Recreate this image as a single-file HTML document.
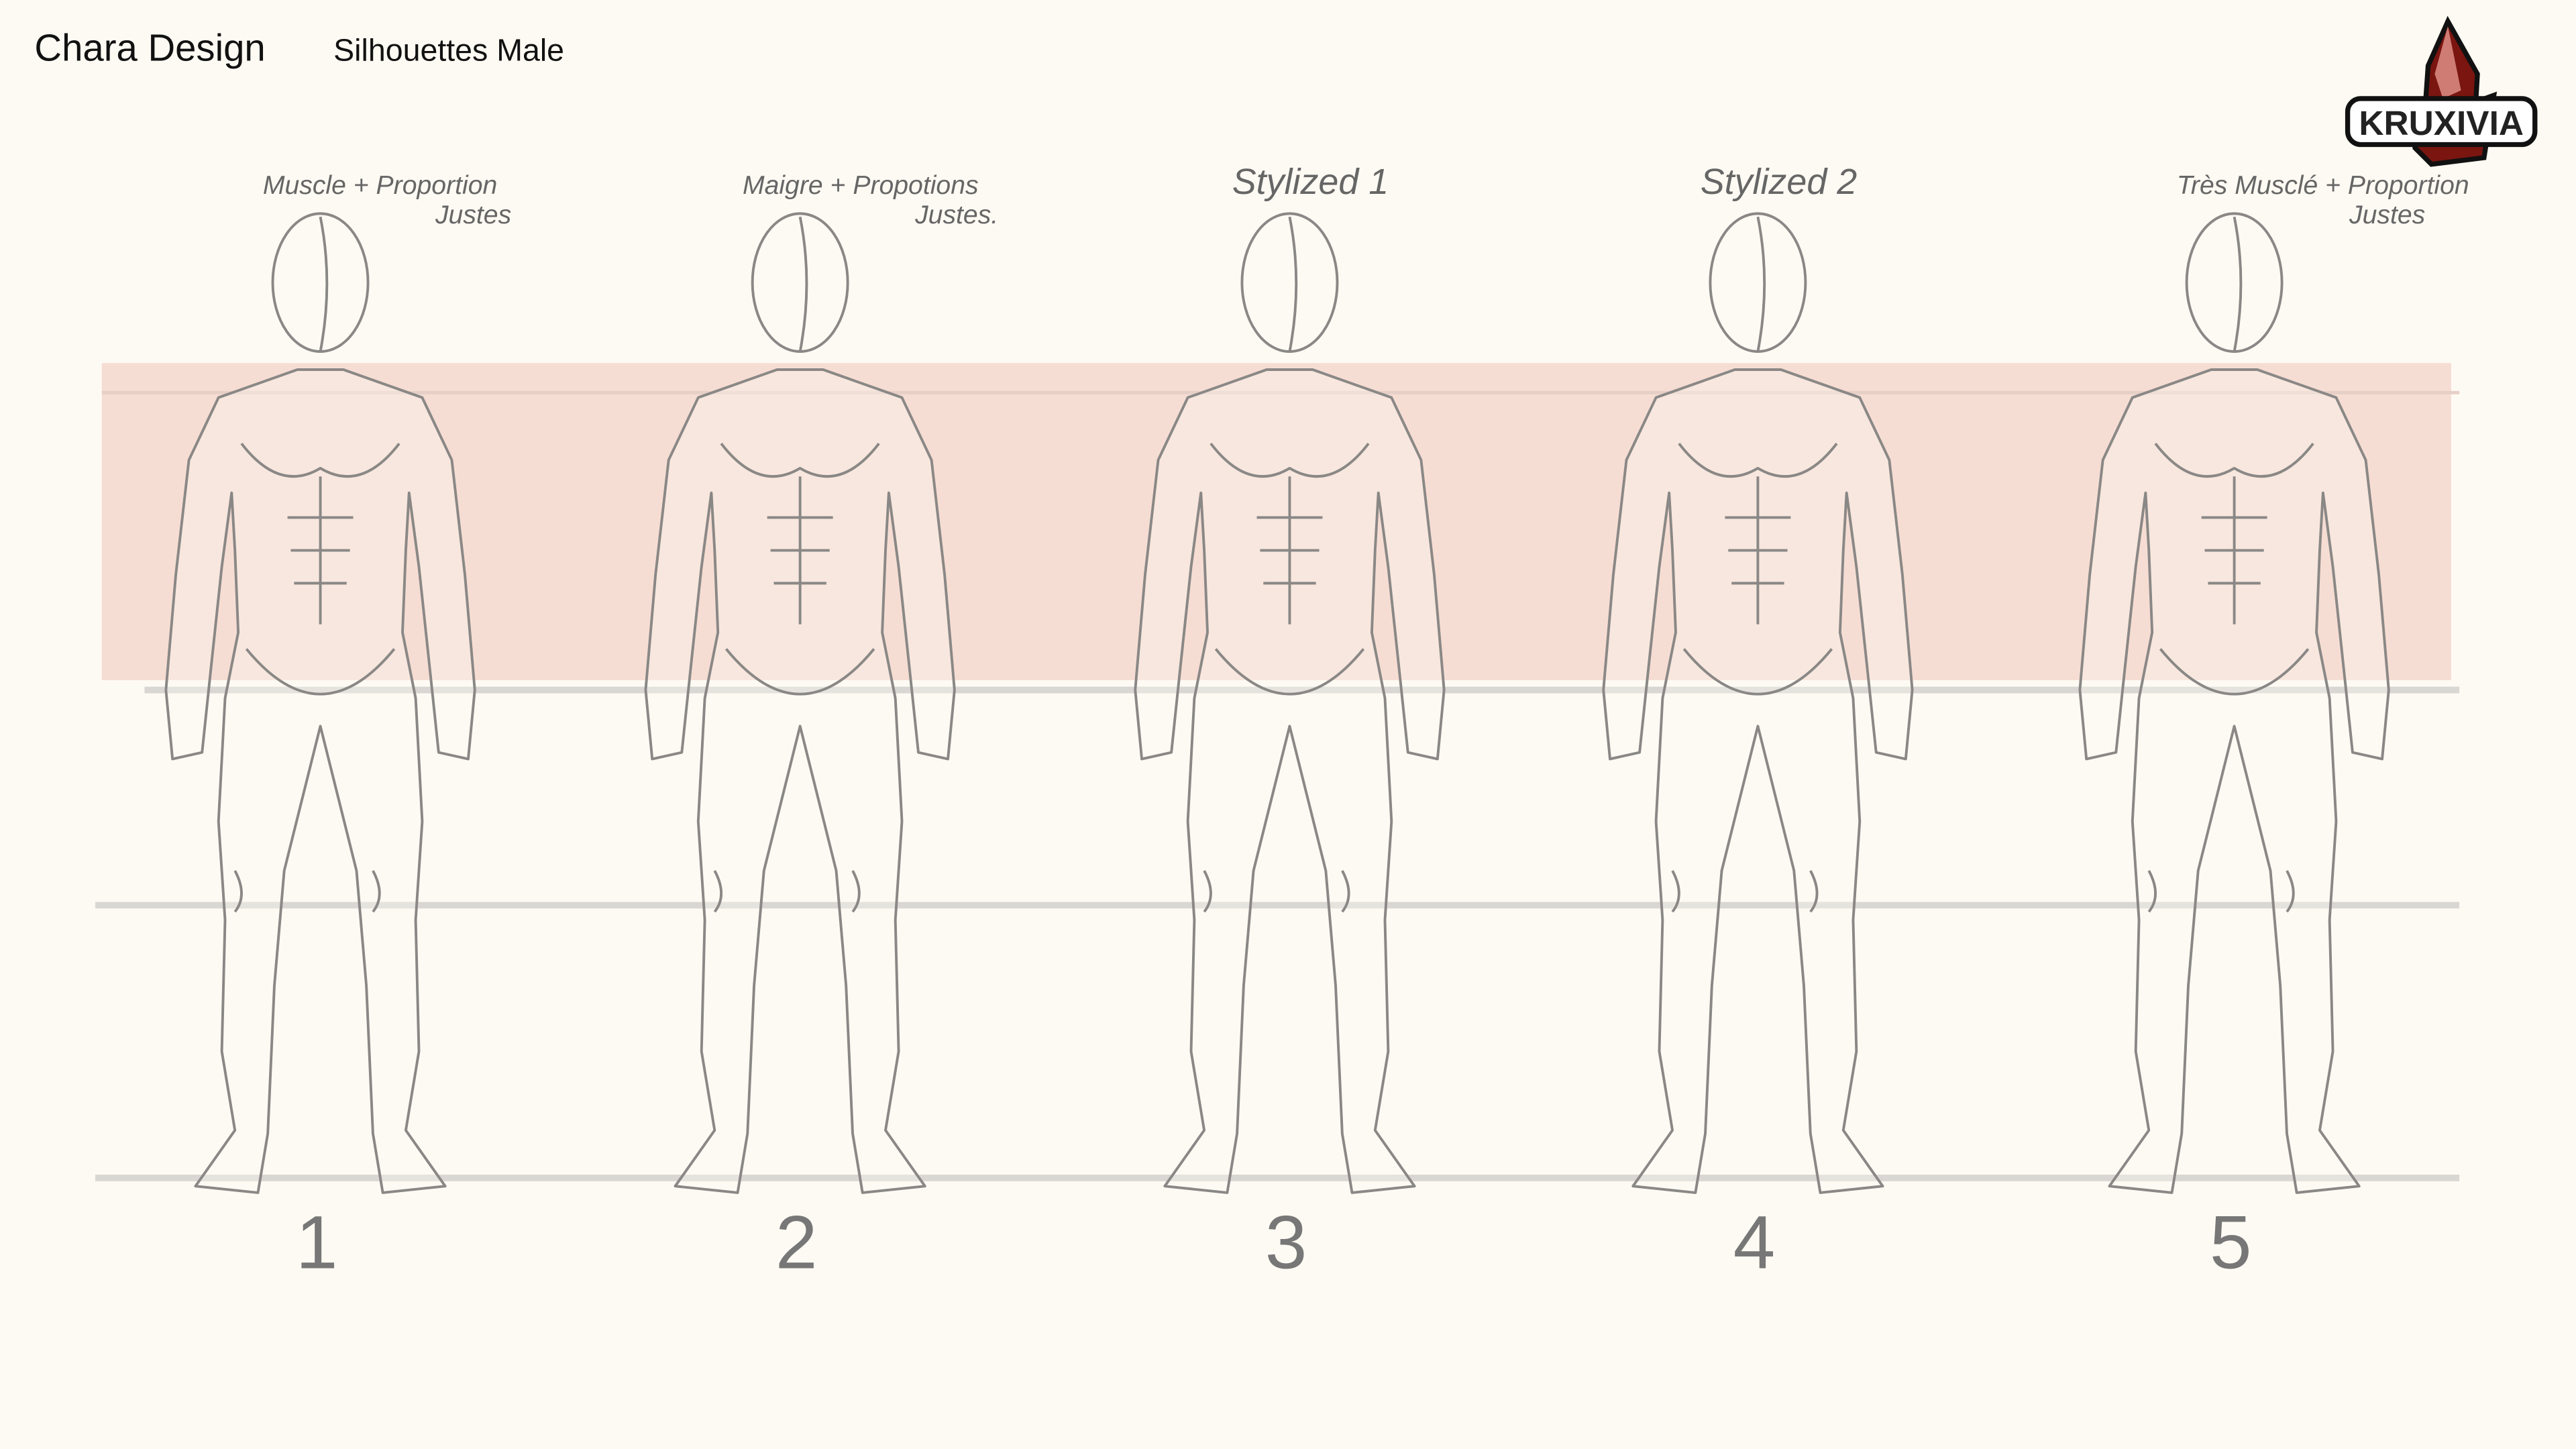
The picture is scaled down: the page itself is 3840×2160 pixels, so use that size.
<!DOCTYPE html>
<html><head><meta charset="utf-8"><style>
html,body{margin:0;padding:0;background:#fdfaf3;}
svg{display:block}
</style></head><body>
<svg id="sheet" width="3840" height="2160" viewBox="0 0 1568 882" preserveAspectRatio="none" xmlns="http://www.w3.org/2000/svg">
<rect x="0" y="0" width="1568" height="882" fill="#fdfaf3"/>
<rect x="62" y="221" width="1430" height="193" fill="#f6ddd3"/>
<line x1="62" y1="239" x2="1497" y2="239" stroke="#e6cfc6" stroke-width="2"/>
<line x1="88" y1="420" x2="1497" y2="420" stroke="#d9d7d3" stroke-width="4"/>
<line x1="58" y1="551" x2="1497" y2="551" stroke="#d9d7d3" stroke-width="4"/>
<line x1="58" y1="717" x2="1497" y2="717" stroke="#d9d7d3" stroke-width="4"/>
<text x="21" y="37" font-family="Liberation Sans, sans-serif" font-size="23" fill="#111">Chara Design</text>
<text x="203" y="37" font-family="Liberation Sans, sans-serif" font-size="19" fill="#111">Silhouettes Male</text>
<g>
<polygon points="1490,13 1508,45 1507,62 1518,58 1512,96 1480,100 1470,90 1467,62 1476,68 1478,40" fill="#7a1510" stroke="#111" stroke-width="3"/>
<polygon points="1490,16 1482,45 1487,60 1498,55" fill="#f4a8a0" opacity="0.7"/>
<rect x="1429" y="60" width="114" height="28" rx="8" fill="#fff" stroke="#111" stroke-width="3"/>
<text x="1486" y="82" text-anchor="middle" font-family="Liberation Sans, sans-serif" font-weight="bold" font-size="21" fill="#222">KRUXIVIA</text>
</g>
<g id="figs"></g>
</svg>
<script>
const figureCenters=[195,487,785,1070,1360];
const figureNumbers=["1","2","3","4","5"];
const notes=[["Muscle + Proportion","Justes"],["Maigre + Propotions","Justes."],["Stylized 1",""],["Stylized 2",""],["Très Musclé + Proportion","Justes"]];
const ns="http://www.w3.org/2000/svg";
const g=document.getElementById('figs');
const half=[[-14,225],[-62,242],[-80,280],[-88,350],[-94,420],[-90,462],[-72,458],[-68,420],[-60,345],[-54,300],[-52,335],[-50,385],[-58,425],[-62,500],[-58,560],[-60,640],[-52,688],[-76,722],[-38,726],[-32,690],[-28,600],[-22,530],[0,442]];
function outline(cx){let p=half.map(q=>[cx+q[0],q[1]]);let r=half.slice().reverse().map(q=>[cx-q[0],q[1]]);return "M"+p.concat(r).map(q=>q.join(",")).join(" L")+"Z";}
figureCenters.forEach((cx,i)=>{
 const f=document.createElementNS(ns,'g');
 
 
 f.setAttribute('fill','none');f.setAttribute('stroke','#8a8886');f.setAttribute('stroke-width','1.6');f.setAttribute('stroke-linejoin','round');
 f.innerHTML=`<ellipse cx="${cx}" cy="172" rx="29" ry="42" fill="#fdfaf3"/><path d="M${cx},132 Q${cx+8},172 ${cx},214"/><path d="${outline(cx)}" fill="#fdfaf3" fill-opacity="0.35"/>
<path d="M${cx-48},270 Q${cx-25},300 ${cx},285 Q${cx+25},300 ${cx+48},270"/><path d="M${cx},290 L${cx},380"/>
<path d="M${cx-20},315 h40 M${cx-18},335 h36 M${cx-16},355 h32"/><path d="M${cx-45},395 Q${cx},450 ${cx+45},395"/>
<path d="M${cx-52},530 q8,15 0,25 M${cx+32},530 q8,15 0,25"/>`;
 g.appendChild(f);
 const t=document.createElementNS(ns,'text');
 
 
 t.setAttribute('x',cx-15);t.setAttribute('y',772);t.setAttribute('font-size','46');t.setAttribute('fill','#777');t.setAttribute('font-family','Liberation Sans, sans-serif');
 t.textContent=figureNumbers[i];g.appendChild(t);
 notes[i].forEach((line,j)=>{ if(!line)return;
  const n=document.createElementNS(ns,'text');
  
  
  n.setAttribute('x',j?cx+70:cx-35);n.setAttribute('y',118+j*18);
  n.setAttribute('font-size',(i==2||i==3)?'22':'16');n.setAttribute('fill','#666');n.setAttribute('font-family','Liberation Sans, sans-serif');n.setAttribute('font-style','italic');
  n.textContent=line;g.appendChild(n);});
});
</script>
</body></html>
